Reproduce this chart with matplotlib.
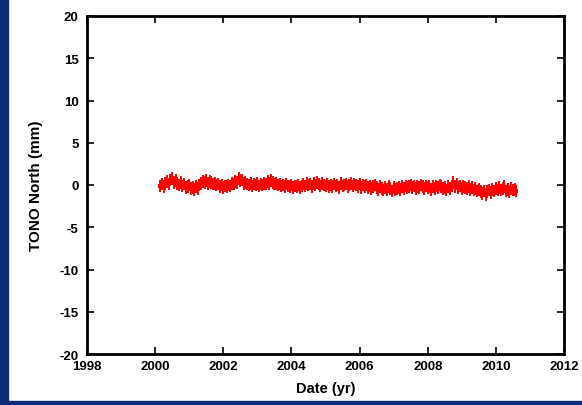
import numpy as np
import matplotlib
matplotlib.use("Agg")
import matplotlib.pyplot as plt
from matplotlib.patches import Rectangle

# ---- data ----
start_year = 2000.15
step_year = 0.05
north_mm = [
    -0.1, 0.1, -0.2, 0.2, 0.4, 0.1, 0.6, 0.8, 0.3, 0.5, 0.2, 0.0, 0.3, -0.1, 0.1, -0.3, -0.2, 0.0, -0.4, -0.3,
    -0.5, -0.2, -0.4, 0.0, 0.2, 0.4, 0.3, 0.5, 0.2, 0.4, 0.3, 0.1, 0.2, 0.0, 0.1, -0.2, 0.0, -0.3, -0.1, -0.2,
    0.0, -0.1, 0.2, 0.1, 0.4, 0.3, 0.8, 0.5, 0.6, 0.2, 0.3, 0.1, 0.0, 0.2, -0.1, 0.1, 0.0, 0.2, -0.1, 0.1,
    0.0, 0.2, 0.1, 0.4, 0.2, 0.5, 0.3, 0.1, 0.2, 0.0, 0.1, -0.1, 0.0, -0.2, 0.1, -0.1, -0.2, 0.0, -0.3, -0.1,
    -0.2, 0.0, -0.3, -0.1, 0.1, -0.1, 0.2, 0.0, 0.1, -0.2, 0.2, 0.0, 0.3, 0.1, -0.1, 0.2, 0.0, -0.1, 0.1, -0.2,
    0.0, -0.2, 0.1, -0.1, 0.0, -0.3, 0.2, -0.1, 0.0, 0.1, -0.2, 0.0, 0.2, -0.1, 0.1, 0.0, -0.2, 0.1, -0.3, 0.0,
    -0.2, 0.0, -0.3, -0.1, -0.4, -0.2, 0.0, -0.3, -0.5, -0.2, -0.4, -0.6, -0.3, -0.5, -0.2, -0.4, -0.7, -0.3, -0.5, -0.4,
    -0.3, -0.5, -0.2, -0.4, -0.1, -0.3, -0.2, 0.0, -0.3, -0.1, -0.4, -0.2, -0.3, 0.0, -0.2, -0.4, -0.1, -0.3, -0.2, -0.5,
    -0.2, -0.4, -0.1, -0.3, 0.0, -0.2, -0.4, -0.3, -0.6, -0.2, -0.4, -0.1, 0.3, -0.2, 0.1, -0.3, -0.1, -0.4, -0.2, -0.3,
    -0.4, -0.2, -0.5, -0.3, -0.6, -0.4, -0.7, -0.5, -0.8, -1.0, -0.7, -1.1, -0.8, -0.6, -0.9, -0.5, -0.7, -0.4, -0.6, -0.3,
    -0.6, -0.4, -0.2, -0.7, -0.5, -0.8, -0.4, -0.6, -0.5, -0.7,
]
error_mm = 0.75
dates = start_year + step_year * np.arange(len(north_mm))

x_ticks = [1998, 2000, 2002, 2004, 2006, 2008, 2010, 2012]
y_ticks = [-20, -15, -10, -5, 0, 5, 10, 15, 20]

plt.rcParams['font.family'] = ['Liberation Sans', 'DejaVu Sans']
plt.rcParams['font.weight'] = 'bold'
plt.rcParams['axes.unicode_minus'] = False

W, H = 582, 406
fig = plt.figure(figsize=(W / 100, H / 100), dpi=100)
fig.patch.set_facecolor('white')
# dark blue frame strips (left and bottom)
blue = '#0b2a78'
fig.add_artist(Rectangle((0, 0), 8 / W, 1, transform=fig.transFigure, color=blue, zorder=0))
fig.add_artist(Rectangle((0, 0), 1, 4 / H, transform=fig.transFigure, color=blue, zorder=0))

ax = fig.add_axes([87 / W, 1 - 355 / H, (564 - 87) / W, (355 - 17) / H])
ax.errorbar(dates, north_mm, yerr=error_mm, fmt='s', color='#ff0000', ms=3,
            elinewidth=1.4, capsize=2.5, capthick=1.2, mew=0)

ax.set_xlim(1998, 2012)
ax.set_ylim(-20, 20)
ax.set_xticks(x_ticks)
ax.set_yticks(y_ticks)
ax.tick_params(direction='in', length=5, width=1.2, top=True, right=True,
               labelsize=9.5, colors='black')
ax.tick_params(axis='x', pad=4)
ax.tick_params(axis='y', pad=6)
for lbl in ax.get_xticklabels() + ax.get_yticklabels():
    lbl.set_fontweight('bold')
for sp in ax.spines.values():
    sp.set_linewidth(2)
ax.set_xlabel('Date (yr)', fontsize=10.5, fontweight='bold', labelpad=7)
ax.set_ylabel('TONO North (mm)', fontsize=11, fontweight='bold', labelpad=12)

fig.savefig('out.png', dpi=100, facecolor=fig.get_facecolor())
